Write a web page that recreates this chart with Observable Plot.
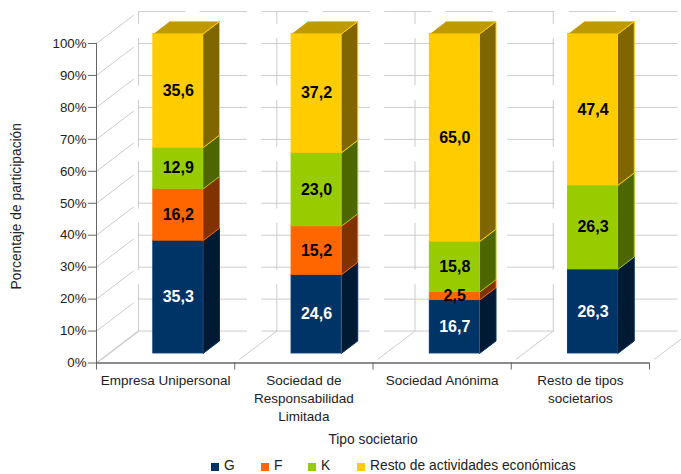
<!DOCTYPE html>
<html>
<head>
<meta charset="utf-8">
<style>
html,body{margin:0;padding:0;background:#fff;overflow:hidden}
#chart svg{display:block}
#legend{position:relative;height:19px;width:681px;font:13.8px "Liberation Sans",sans-serif;color:#222}
#legend .sw{position:absolute;top:8px;width:8px;height:8px}
#legend .tx{position:absolute;top:3px;line-height:15px;white-space:nowrap}
</style>
<script src="https://cdn.jsdelivr.net/npm/d3@7"></script>
<script src="https://cdn.jsdelivr.net/npm/@observablehq/plot@0.6"></script>
</head>
<body>
<div id="chart"></div>
<div id="legend"></div>
<script>
const categories = ["Empresa Unipersonal", "Sociedad de\nResponsabilidad\nLimitada", "Sociedad Anónima", "Resto de tipos\nsocietarios"];
const seriesNames = ["G", "F", "K", "Resto de actividades económicas"];
const valuesG = [35.3, 24.6, 16.7, 26.3];
const valuesF = [16.2, 15.2, 2.5, 0];
const valuesK = [12.9, 23.0, 15.8, 26.3];
const valuesResto = [35.6, 37.2, 65.0, 47.4];
const frontColors = ["#003366", "#ff6600", "#99cc00", "#ffcc00"];
const sideColors = ["#001a33", "#803300", "#4d6600", "#806600"];
const topColor = "#bf9900";
const labelColors = ["#fff", "#000", "#000", "#000"];
const percentTicks = [0, 10, 20, 30, 40, 50, 60, 70, 80, 90, 100];
const legendSwatchLeft = [211, 261, 308, 357];
const yTitle = "Porcentaje de participación";
const xTitle = "Tipo societario";

const allSeries = [valuesG, valuesF, valuesK, valuesResto];
// Oblique projection: depth d in [0,1] moves a point right and up the chart.
const dX = 0.304, dY = 10;
const P = (cat, pct, d) => ({x: cat + d * dX, y: pct + d * dY});
const z0 = 0.30, z1 = 0.69, barLeft = 0.32, barRight = 0.68;

// Wall and floor grid, drawn as the dashed paths of the reference
const wallH = percentTicks.map(p => [P(0, p, 1), P(4, p, 1)]);
const wallV = [0, 1, 2, 3, 4].map(c => [P(c, 0, 1), P(c, 100, 1)]);
const leftWall = percentTicks.slice(1).map(p => [P(0, p, 0), P(0, p, 1)]);
const floorLines = [1, 2, 3, 4].map(c => [P(c, 0, 1), P(c, 0, 0)]);
const gridLine = segs => Plot.line(segs.flatMap((s, i) => s.map(q => ({...q, k: i}))),
  {x: "x", y: "y", z: "k", stroke: "#cccccc", strokeWidth: 1, strokeDasharray: "46.5 15"});

const barMarks = [];
const labels = [];
categories.forEach((_, c) => {
  let base = 0;
  const x0 = c + barLeft, x1 = c + barRight;
  allSeries.forEach((vals, s) => {
    const v = vals[c];
    const lo = base, hi = base + v;
    base = hi;
    if (v === 0) return;
    const side = [P(x1, lo, z0), P(x1, lo, z1), P(x1, hi, z1), P(x1, hi, z0)];
    barMarks.push(Plot.line(side, {x: "x", y: "y", fill: sideColors[s], stroke: frontColors[s], strokeWidth: 1}));
    barMarks.push(Plot.rect([{}], {
      x1: P(x0, lo, z0).x, x2: P(x1, lo, z0).x,
      y1: P(x0, lo, z0).y, y2: P(x0, hi, z0).y,
      fill: frontColors[s], stroke: frontColors[s], strokeWidth: 1
    }));
    labels.push({
      x: P((x0 + x1) / 2, 0, z0).x, y: P(0, (lo + hi) / 2, z0).y,
      t: v.toFixed(1).replace(".", ","), f: labelColors[s]
    });
    if (s === allSeries.length - 1) {
      const top = [P(x0, hi, z0), P(x1, hi, z0), P(x1, hi, z1), P(x0, hi, z1)];
      barMarks.push(Plot.line(top, {x: "x", y: "y", fill: topColor, stroke: frontColors[s], strokeWidth: 1}));
    }
  });
});

const plot = Plot.plot({
  width: 681, height: 455,
  marginLeft: 96, marginRight: 32, marginTop: 43, marginBottom: 92.5,
  style: {fontFamily: "'Liberation Sans', sans-serif", fontSize: "13.5px", color: "#222", background: "#fff", overflow: "hidden"},
  x: {type: "linear", domain: [0, 4]},
  y: {type: "linear", domain: [0, 100]},
  marks: [
    gridLine(wallH), gridLine(wallV), gridLine(leftWall), gridLine(floorLines),
    Plot.line([P(0, 0, 0), P(0, 0, 1)], {x: "x", y: "y", stroke: "#cccccc"}),
    ...barMarks,
    Plot.text(labels, {x: "x", y: "y", text: "t", fill: "f", fontWeight: "bold", fontSize: 16}),
    Plot.ruleX([0], {stroke: "#666"}),
    Plot.ruleY([0], {stroke: "#666", strokeWidth: 1.5}),
    Plot.axisY({ticks: percentTicks, tickSize: 8, tickPadding: 2, fontSize: 13.3, tickFormat: d => d + "%", stroke: "#666", label: null}),
    Plot.axisX({ticks: [0, 1, 2, 3, 4], tickSize: 7, tickFormat: () => "", stroke: "#666", label: null}),
    Plot.axisX({ticks: categories.map((_, i) => i + 0.5), tickSize: 0, tickPadding: 9,
      tickFormat: d => categories[d - 0.5], lineHeight: 1.34, lineAnchor: "top", label: null}),
    Plot.text([yTitle], {frameAnchor: "left", textAnchor: "middle", rotate: -90, dx: -80, dy: 3, fontSize: 13.8, fill: "#222"}),
    Plot.text([xTitle], {frameAnchor: "bottom", dy: 81, fontSize: 13.8, fill: "#222"})
  ]
});
document.getElementById("chart").append(plot);

const legend = document.getElementById("legend");
seriesNames.forEach((name, i) => {
  const sw = document.createElement("span");
  sw.className = "sw";
  sw.style.left = legendSwatchLeft[i] + "px";
  sw.style.background = frontColors[i];
  const tx = document.createElement("span");
  tx.className = "tx";
  tx.style.left = (legendSwatchLeft[i] + 13) + "px";
  tx.textContent = name;
  legend.append(sw, tx);
});
</script>
</body>
</html>
